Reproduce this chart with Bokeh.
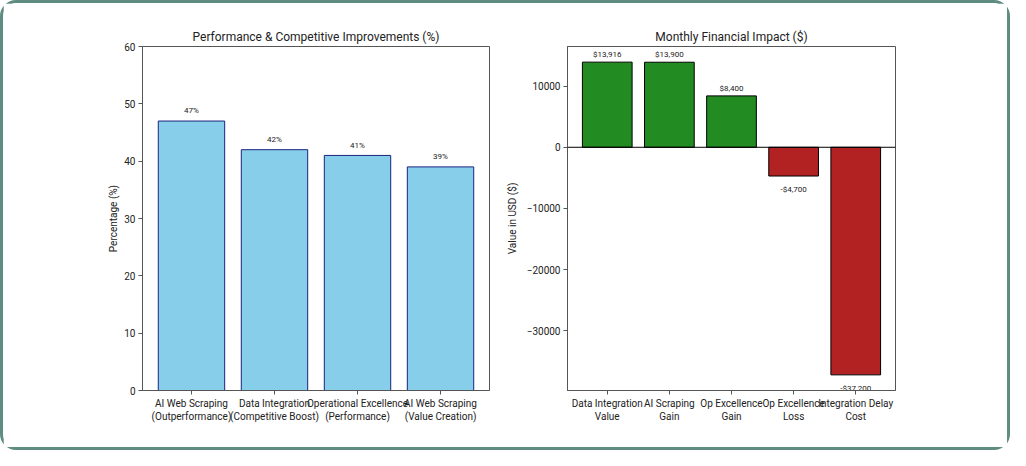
from bokeh.plotting import figure
from bokeh.layouts import row
from bokeh.models import ColumnDataSource, FixedTicker, Range1d, Span
from bokeh.core.properties import value
from bokeh.embed import file_html
from bokeh.resources import INLINE

# ---- data ----
perf_categories = ["AI Web Scraping\n(Outperformance)", "Data Integration\n(Competitive Boost)",
                   "Operational Excellence\n(Performance)", "AI Web Scraping\n(Value Creation)"]
perf_values = [47, 42, 41, 39]
perf_labels = ["47%", "42%", "41%", "39%"]
perf_yticks = [0, 10, 20, 30, 40, 50, 60]

fin_categories = ["Data Integration\nValue", "AI Scraping\nGain", "Op Excellence\nGain",
                  "Op Excellence\nLoss", "Integration Delay\nCost"]
fin_values = [13916, 13900, 8400, -4700, -37200]
fin_labels = ["$13,916", "$13,900", "$8,400", "-$4,700", "-$37,200"]
fin_yticks = [-30000, -20000, -10000, 0, 10000]

FONT = "Roboto"
AXIS_COLOR = "#555555"
TEXT_COLOR = "#222222"


def style(p, ylabel, label_standoff):
    p.title.text_font = FONT
    p.title.text_font_size = "12px"
    p.title.text_font_style = "normal"
    p.title.align = "center"
    p.title.text_color = TEXT_COLOR
    p.title.standoff = 5
    p.xgrid.visible = False
    p.ygrid.visible = False
    p.outline_line_color = AXIS_COLOR
    p.outline_line_width = 1
    for ax in (p.xaxis[0], p.yaxis[0]):
        ax.axis_line_color = AXIS_COLOR
        ax.major_tick_line_color = AXIS_COLOR
        ax.major_tick_out = 4
        ax.major_tick_in = 0
        ax.minor_tick_line_color = None
        ax.major_label_text_font = FONT
        ax.major_label_text_font_size = "10px"
        ax.major_label_text_color = TEXT_COLOR
        ax.axis_label_text_font = FONT
        ax.axis_label_text_font_size = "10px"
        ax.axis_label_text_font_style = "normal"
        ax.axis_label_text_color = TEXT_COLOR
    p.yaxis[0].axis_label = ylabel
    p.yaxis[0].axis_label_standoff = label_standoff
    p.xaxis[0].major_label_standoff = 3
    p.yaxis[0].major_label_standoff = 3


# ---- left chart ----
n1 = len(perf_values)
x1 = list(range(n1))
src1 = ColumnDataSource(dict(x=x1, top=perf_values, lab=perf_labels,
                             ly=[v + 1 for v in perf_values]))
p1 = figure(width=500, height=444, output_backend="svg", toolbar_location=None,
            title="Performance & Competitive Improvements (%)",
            x_range=Range1d(-0.59, n1 - 1 + 0.59), y_range=Range1d(0, 60),
            min_border_left=139, min_border_right=14, min_border_top=43, min_border_bottom=57)
p1.vbar(x="x", top="top", bottom=0, width=0.8, source=src1,
        fill_color="#87CEEB", line_color="#1a237e", line_width=1)
p1.text(x="x", y="ly", text="lab", source=src1, text_align="center", text_baseline="bottom",
        text_font=value(FONT), text_font_size="8px", text_color=TEXT_COLOR)
style(p1, "Percentage (%)", 2)
p1.xaxis[0].ticker = FixedTicker(ticks=x1)
p1.xaxis[0].major_label_overrides = {i: c for i, c in enumerate(perf_categories)}
p1.yaxis[0].ticker = FixedTicker(ticks=perf_yticks)

# ---- right chart ----
n2 = len(fin_values)
x2 = list(range(n2))
colors = ["#228B22" if v >= 0 else "#B22222" for v in fin_values]
lab_y = [v + 500 if v >= 0 else v - 1500 for v in fin_values]
lab_base = ["bottom" if v >= 0 else "top" for v in fin_values]
src2 = ColumnDataSource(dict(x=x2, top=fin_values, c=colors, lab=fin_labels, ly=lab_y, lb=lab_base))
ymin, ymax = min(fin_values), max(fin_values)
pad = (ymax - ymin) * 0.05
p2 = figure(width=504, height=444, output_backend="svg", toolbar_location=None,
            title="Monthly Financial Impact ($)",
            x_range=Range1d(-0.64, n2 - 1 + 0.64), y_range=Range1d(ymin - pad, ymax + pad),
            min_border_left=47, min_border_right=112, min_border_top=43, min_border_bottom=57)
p2.vbar(x="x", top="top", bottom=0, width=0.8, source=src2,
        fill_color="c", line_color="black", line_width=1)
p2.add_layout(Span(location=0, dimension="width", line_color="black", line_width=1))
p2.text(x="x", y="ly", text="lab", source=src2, text_align="center", text_baseline="lb",
        text_font=value(FONT), text_font_size="8px", text_color=TEXT_COLOR)
style(p2, "Value in USD ($)", 6)
p2.xaxis[0].ticker = FixedTicker(ticks=x2)
p2.xaxis[0].major_label_overrides = {i: c for i, c in enumerate(fin_categories)}
p2.yaxis[0].ticker = FixedTicker(ticks=fin_yticks)
p2.yaxis[0].major_label_overrides = {t: (str(t).replace("-", "\u2212")) for t in fin_yticks}

layout = row(p1, p2, styles={"border": "3px solid #5e8c80", "border-radius": "16px",
                             "background": "white"})

open("out.html", "w").write(file_html(layout, INLINE))
